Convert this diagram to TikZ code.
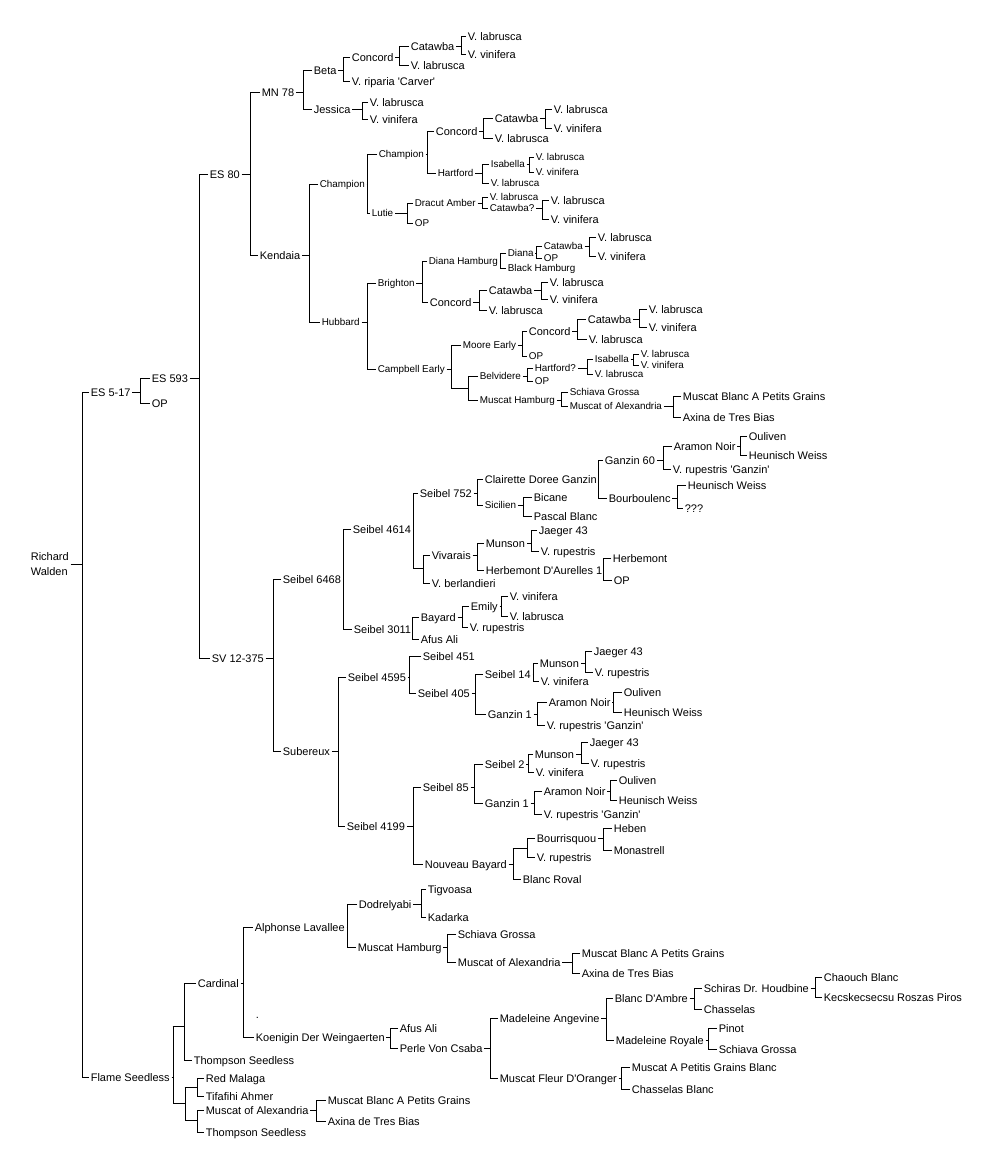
\documentclass[tikz,border=0pt]{standalone}
\usepackage{fontspec}
\setmainfont{Liberation Sans}
\usepackage{tikz}

\newcommand{\ap}{\textquotesingle}
\newcommand{\fork}[4]{%
  \path (#2,0) coordinate (bx);
  \draw (#1.east) -- (#1.east -| bx);
  \draw (#3.west) -- (#3.west -| bx) |- (#4.west);}

\tikzset{
  lbl/.style={anchor=west, inner sep=1pt, text height=6pt, text depth=0pt, font=\fontsize{8.25}{10}\selectfont},
  sml/.style={lbl, text height=5.4pt, font=\fontsize{7.4}{9}\selectfont},
  jn/.style={inner sep=0pt, minimum size=0pt},
}

\begin{document}
\begin{tikzpicture}[x=0.75pt, y=-0.75pt, line width=0.75pt]
\useasboundingbox (0,0) rectangle (991,1165);

\node [anchor=west, align=left, inner sep=1pt, font=\fontsize{8.25}{11.25}\selectfont] (rw) at (29,564) {Richard\\Walden};
\node [lbl] (es517) at (89,392) {ES 5-17};
\node [lbl] (fs) at (89,1077) {Flame Seedless};
\fork{rw}{82}{es517}{fs}

\node [lbl] (es593) at (150,378) {ES 593};
\node [lbl] (op1) at (150,403) {OP};
\fork{es517}{140}{es593}{op1}

\node [lbl] (es80) at (208,174) {ES 80};
\node [lbl] (sv) at (210,658) {SV 12-375};
\fork{es593}{199}{es80}{sv}

\node [lbl] (mn78) at (260,92) {MN 78};
\node [lbl] (kend) at (258,255) {Kendaia};
\fork{es80}{250}{mn78}{kend}

\node [lbl] (beta) at (312,70) {Beta};
\node [lbl] (jess) at (312,109) {Jessica};
\fork{mn78}{303}{beta}{jess}
\node [lbl] (conc1) at (350,57) {Concord};
\node [lbl] (carv) at (350,81) {V. riparia \ap Carver\ap};
\fork{beta}{343}{conc1}{carv}
\node [lbl] (cat1) at (409,46) {Catawba};
\node [lbl] (lab1b) at (409,65) {V. labrusca};
\fork{conc1}{399}{cat1}{lab1b}
\node [lbl] (lab1) at (466,36) {V. labrusca};
\node [lbl] (vin1) at (466,54) {V. vinifera};
\fork{cat1}{461}{lab1}{vin1}
\node [lbl] (jlab) at (368,102) {V. labrusca};
\node [lbl] (jvin) at (368,119) {V. vinifera};
\fork{jess}{362}{jlab}{jvin}

\node [sml] (chp) at (318,184) {Champion};
\node [sml] (hub) at (320,322) {Hubbard};
\fork{kend}{309}{chp}{hub}
\node [sml] (chp2) at (377,154) {Champion};
\node [sml] (lut) at (370,213) {Lutie};
\fork{chp}{367}{chp2}{lut}
\node [lbl] (conc2) at (434,131) {Concord};
\node [sml] (hart) at (436,173) {Hartford};
\fork{chp2}{427}{conc2}{hart}
\node [lbl] (cat2) at (493,118) {Catawba};
\node [lbl] (lab2b) at (493,138) {V. labrusca};
\fork{conc2}{483}{cat2}{lab2b}
\node [lbl] (lab2) at (552,109) {V. labrusca};
\node [lbl] (vin2) at (552,128) {V. vinifera};
\fork{cat2}{545}{lab2}{vin2}
\node [sml] (isa1) at (489,164) {Isabella};
\node [sml] (hlab) at (489,183) {V. labrusca};
\fork{hart}{482}{isa1}{hlab}
\node [sml] (isalab) at (534,157) {V. labrusca};
\node [sml] (isavin) at (534,172) {V. vinifera};
\fork{isa1}{529}{isalab}{isavin}
\node [sml] (dra) at (413,203) {Dracut Amber};
\node [sml] (op2) at (413,223) {OP};
\fork{lut}{407}{dra}{op2}
\node [sml] (dlab) at (488,197) {V. labrusca};
\node [sml] (dcat) at (488,208) {Catawba?};
\fork{dra}{482}{dlab}{dcat}
\node [lbl] (dclab) at (549,200) {V. labrusca};
\node [lbl] (dcvin) at (549,219) {V. vinifera};
\fork{dcat}{542}{dclab}{dcvin}

\node [sml] (bri) at (376,283) {Brighton};
\node [sml] (cam) at (376,369) {Campbell Early};
\fork{hub}{367}{bri}{cam}
\node [sml] (dh) at (427,261) {Diana Hamburg};
\node [lbl] (conc3) at (428,302) {Concord};
\fork{bri}{422}{dh}{conc3}
\node [sml] (dia) at (506,253) {Diana};
\node [sml] (bh) at (506,268) {Black Hamburg};
\fork{dh}{500}{dia}{bh}
\node [sml] (dcat2) at (542,246) {Catawba};
\node [sml] (dop) at (542,258) {OP};
\fork{dia}{536}{dcat2}{dop}
\node [lbl] (dlab2) at (596,237) {V. labrusca};
\node [lbl] (dvin2) at (596,256) {V. vinifera};
\fork{dcat2}{589}{dlab2}{dvin2}
\node [lbl] (cat3) at (487,290) {Catawba};
\node [lbl] (lab3b) at (487,310) {V. labrusca};
\fork{conc3}{479}{cat3}{lab3b}
\node [lbl] (lab3) at (548,282) {V. labrusca};
\node [lbl] (vin3) at (548,299) {V. vinifera};
\fork{cat3}{541}{lab3}{vin3}

\node [sml] (moe) at (461,345) {Moore Early};
\node [jn] (cj) at (451,388) {};
\fork{cam}{451}{moe}{cj}
\node [lbl] (conc4) at (527,331) {Concord};
\node [sml] (op3) at (527,356) {OP};
\fork{moe}{522}{conc4}{op3}
\node [lbl] (cat4) at (586,319) {Catawba};
\node [lbl] (lab4b) at (587,339) {V. labrusca};
\fork{conc4}{577}{cat4}{lab4b}
\node [lbl] (lab4) at (647,309) {V. labrusca};
\node [lbl] (vin4) at (647,327) {V. vinifera};
\fork{cat4}{639}{lab4}{vin4}
\node [sml] (bel) at (478,376) {Belvidere};
\node [sml] (mh) at (478,400) {Muscat Hamburg};
\fork{cj}{468}{bel}{mh}
\node [sml] (har2) at (533,368) {Hartford?};
\node [sml] (op4) at (533,381) {OP};
\fork{bel}{527}{har2}{op4}
\node [sml] (isa2) at (593,359) {Isabella};
\node [sml] (hlab2) at (593,374) {V. labrusca};
\fork{har2}{587}{isa2}{hlab2}
\node [sml] (ilab2) at (639,354) {V. labrusca};
\node [sml] (ivin2) at (639,365) {V. vinifera};
\fork{isa2}{633}{ilab2}{ivin2}
\node [sml] (sg1) at (568,392) {Schiava Grossa};
\node [sml] (moa1) at (568,406) {Muscat of Alexandria};
\fork{mh}{561}{sg1}{moa1}
\node [lbl] (mbap1) at (681,396) {Muscat Blanc A Petits Grains};
\node [lbl] (axi1) at (681,417) {Axina de Tres Bias};
\fork{moa1}{673}{mbap1}{axi1}

\node [lbl] (s6468) at (281,579) {Seibel 6468};
\node [lbl] (sub) at (281,751) {Subereux};
\fork{sv}{273}{s6468}{sub}
\node [lbl] (s4614) at (351,529) {Seibel 4614};
\node [lbl] (s3011) at (352,629) {Seibel 3011};
\fork{s6468}{343}{s4614}{s3011}
\node [lbl] (s752) at (418,493) {Seibel 752};
\node [jn] (sj) at (413,568) {};
\fork{s4614}{413}{s752}{sj}
\node [lbl] (cdg) at (483,479) {Clairette Doree Ganzin};
\node [sml] (sic) at (483,505) {Sicilien};
\fork{s752}{477}{cdg}{sic}
\node [lbl] (g60) at (603,460) {Ganzin 60};
\node [lbl] (bou) at (607,498) {Bourboulenc};
\fork{cdg}{598}{g60}{bou}
\node [lbl] (an1) at (672,446) {Aramon Noir};
\node [lbl] (vrg1) at (671,469) {V. rupestris \ap Ganzin\ap};
\fork{g60}{663}{an1}{vrg1}
\node [lbl] (oul1) at (747,436) {Ouliven};
\node [lbl] (hw1) at (747,455) {Heunisch Weiss};
\fork{an1}{740}{oul1}{hw1}
\node [lbl] (hw2) at (686,485) {Heunisch Weiss};
\node [lbl] (qqq) at (683,508) {???};
\fork{bou}{677}{hw2}{qqq}
\node [lbl] (bic) at (532,497) {Bicane};
\node [lbl] (pas) at (532,516) {Pascal Blanc};
\fork{sic}{523}{bic}{pas}
\node [lbl] (viv) at (430,555) {Vivarais};
\node [lbl] (ber) at (430,583) {V. berlandieri};
\fork{sj}{423}{viv}{ber}
\node [lbl] (mun1) at (484,543) {Munson};
\node [lbl] (hda) at (484,570) {Herbemont D\ap Aurelles 1};
\fork{viv}{477}{mun1}{hda}
\node [lbl] (jae1) at (537,530) {Jaeger 43};
\node [lbl] (rup1) at (539,551) {V. rupestris};
\fork{mun1}{531}{jae1}{rup1}
\node [lbl] (her) at (611,558) {Herbemont};
\node [lbl] (op5) at (612,580) {OP};
\fork{hda}{603}{her}{op5}
\node [lbl] (bay) at (419,617) {Bayard};
\node [lbl] (afu1) at (419,639) {Afus Ali};
\fork{s3011}{412}{bay}{afu1}
\node [lbl] (emi) at (469,606) {Emily};
\node [lbl] (rup2) at (468,627) {V. rupestris};
\fork{bay}{462}{emi}{rup2}
\node [lbl] (vin5) at (508,596) {V. vinifera};
\node [lbl] (lab5) at (508,616) {V. labrusca};
\fork{emi}{501}{vin5}{lab5}

\node [lbl] (s4595) at (346,677) {Seibel 4595};
\node [lbl] (s4199) at (345,826) {Seibel 4199};
\fork{sub}{338}{s4595}{s4199}
\node [lbl] (s451) at (421,656) {Seibel 451};
\node [lbl] (s405) at (416,693) {Seibel 405};
\fork{s4595}{409}{s451}{s405}
\node [lbl] (s14) at (483,674) {Seibel 14};
\node [lbl] (gz1) at (486,714) {Ganzin 1};
\fork{s405}{475}{s14}{gz1}
\node [lbl] (mun2) at (538,663) {Munson};
\node [lbl] (vin6) at (539,681) {V. vinifera};
\fork{s14}{533}{mun2}{vin6}
\node [lbl] (jae2) at (592,651) {Jaeger 43};
\node [lbl] (rup3) at (593,672) {V. rupestris};
\fork{mun2}{585}{jae2}{rup3}
\node [lbl] (an2) at (547,702) {Aramon Noir};
\node [lbl] (vrg2) at (545,725) {V. rupestris \ap Ganzin\ap};
\fork{gz1}{537}{an2}{vrg2}
\node [lbl] (oul2) at (622,692) {Ouliven};
\node [lbl] (hw3) at (622,712) {Heunisch Weiss};
\fork{an2}{613}{oul2}{hw3}
\node [lbl] (s85) at (421,787) {Seibel 85};
\node [lbl] (nb) at (423,864) {Nouveau Bayard};
\fork{s4199}{413}{s85}{nb}
\node [lbl] (s2) at (483,764) {Seibel 2};
\node [lbl] (gz2) at (483,803) {Ganzin 1};
\fork{s85}{474}{s2}{gz2}
\node [lbl] (mun3) at (533,754) {Munson};
\node [lbl] (vin7) at (534,772) {V. vinifera};
\fork{s2}{528}{mun3}{vin7}
\node [lbl] (jae3) at (588,742) {Jaeger 43};
\node [lbl] (rup4) at (589,763) {V. rupestris};
\fork{mun3}{581}{jae3}{rup4}
\node [lbl] (an3) at (542,791) {Aramon Noir};
\node [lbl] (vrg3) at (542,814) {V. rupestris \ap Ganzin\ap};
\fork{gz2}{534}{an3}{vrg3}
\node [lbl] (oul3) at (617,780) {Ouliven};
\node [lbl] (hw4) at (617,800) {Heunisch Weiss};
\fork{an3}{610}{oul3}{hw4}
\node [jn] (nj) at (513,848) {};
\node [lbl] (bro) at (521,879) {Blanc Roval};
\fork{nb}{513}{nj}{bro}
\node [lbl] (bou2) at (535,838) {Bourrisquou};
\node [lbl] (rup5) at (535,857) {V. rupestris};
\fork{nj}{527}{bou2}{rup5}
\node [lbl] (heb) at (612,828) {Heben};
\node [lbl] (mon) at (612,850) {Monastrell};
\fork{bou2}{603}{heb}{mon}

\node [jn] (fj1) at (173,1026) {};
\node [jn] (fj2) at (173,1103) {};
\fork{fs}{173}{fj1}{fj2}
\node [lbl] (car) at (196,983) {Cardinal};
\node [lbl] (ts1) at (192,1060) {Thompson Seedless};
\fork{fj1}{184}{car}{ts1}
\node [lbl] (alp) at (253,927) {Alphonse Lavallee};
\node [lbl] (koe) at (254,1037) {Koenigin Der Weingaerten};
\fork{car}{243}{alp}{koe}
\node [lbl] (dot) at (254,1014) {.};
\node [lbl] (dod) at (357,904) {Dodrelyabi};
\node [lbl] (mh2) at (356,947) {Muscat Hamburg};
\fork{alp}{347}{dod}{mh2}
\node [lbl] (tig) at (426,889) {Tigvoasa};
\node [lbl] (kad) at (426,917) {Kadarka};
\fork{dod}{421}{tig}{kad}
\node [lbl] (sg2) at (456,934) {Schiava Grossa};
\node [lbl] (moa2) at (456,962) {Muscat of Alexandria};
\fork{mh2}{447}{sg2}{moa2}
\node [lbl] (mbap2) at (580,953) {Muscat Blanc A Petits Grains};
\node [lbl] (axi2) at (580,973) {Axina de Tres Bias};
\fork{moa2}{572}{mbap2}{axi2}
\node [lbl] (afu2) at (398,1028) {Afus Ali};
\node [lbl] (pvc) at (398,1048) {Perle Von Csaba};
\fork{koe}{390}{afu2}{pvc}
\node [lbl] (ma) at (498,1018) {Madeleine Angevine};
\node [lbl] (mfo) at (498,1078) {Muscat Fleur D\ap Oranger};
\fork{pvc}{490}{ma}{mfo}
\node [lbl] (bda) at (613,998) {Blanc D\ap Ambre};
\node [lbl] (mr) at (614,1040) {Madeleine Royale};
\fork{ma}{606}{bda}{mr}
\node [lbl] (sdh) at (702,988) {Schiras Dr. Houdbine};
\node [lbl] (chs) at (702,1009) {Chasselas};
\fork{bda}{694}{sdh}{chs}
\node [lbl] (cha) at (822,977) {Chaouch Blanc};
\node [lbl] (kec) at (822,997) {Kecskecsecsu Roszas Piros};
\fork{sdh}{815}{cha}{kec}
\node [lbl] (pin) at (717,1028) {Pinot};
\node [lbl] (sg3) at (717,1049) {Schiava Grossa};
\fork{mr}{708}{pin}{sg3}
\node [lbl] (mapg) at (630,1067) {Muscat A Petitis Grains Blanc};
\node [lbl] (chb) at (630,1089) {Chasselas Blanc};
\fork{mfo}{621}{mapg}{chb}

\node [jn] (fj3) at (185,1087) {};
\node [jn] (fj4) at (185,1120) {};
\fork{fj2}{185}{fj3}{fj4}
\node [lbl] (rm) at (204,1078) {Red Malaga};
\node [lbl] (tif) at (204,1096) {Tifafihi Ahmer};
\fork{fj3}{197}{rm}{tif}
\node [lbl] (moa3) at (204,1110) {Muscat of Alexandria};
\node [lbl] (ts2) at (204,1132) {Thompson Seedless};
\fork{fj4}{197}{moa3}{ts2}
\node [lbl] (mbap3) at (326,1100) {Muscat Blanc A Petits Grains};
\node [lbl] (axi3) at (326,1121) {Axina de Tres Bias};
\fork{moa3}{316}{mbap3}{axi3}
\end{tikzpicture}
\end{document}
